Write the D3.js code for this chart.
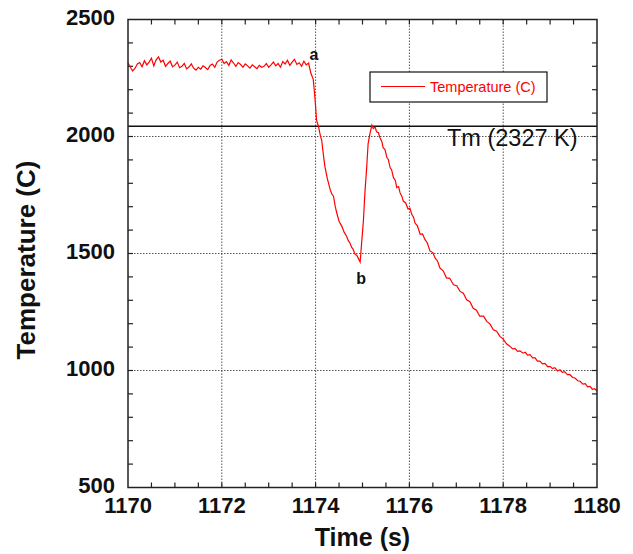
<!DOCTYPE html>
<html>
<head>
<meta charset="utf-8">
<script src="https://cdn.jsdelivr.net/npm/d3@7"></script>
<style>
  body { margin: 0; background: #fff; }
  text { font-family: "Liberation Sans", Arial, sans-serif; }
</style>
</head>
<body>
<div id="chart"></div>
<script>
// Temperature trace
var times = [
  1170.00, 1170.05, 1170.10, 1170.15, 1170.20, 1170.25, 1170.30, 1170.35, 1170.40, 1170.45,
  1170.50, 1170.55, 1170.60, 1170.65, 1170.70, 1170.75, 1170.80, 1170.85, 1170.90, 1170.95,
  1171.00, 1171.05, 1171.10, 1171.15, 1171.20, 1171.25, 1171.30, 1171.35, 1171.40, 1171.45,
  1171.50, 1171.55, 1171.60, 1171.65, 1171.70, 1171.75, 1171.80, 1171.85, 1171.90, 1171.95,
  1172.00, 1172.05, 1172.10, 1172.15, 1172.20, 1172.25, 1172.30, 1172.35, 1172.40, 1172.45,
  1172.50, 1172.55, 1172.60, 1172.65, 1172.70, 1172.75, 1172.80, 1172.85, 1172.90, 1172.95,
  1173.00, 1173.05, 1173.10, 1173.15, 1173.20, 1173.25, 1173.30, 1173.35, 1173.40, 1173.45,
  1173.50, 1173.55, 1173.60, 1173.65, 1173.70, 1173.75, 1173.80, 1173.85,
  1173.90, 1173.95, 1173.99, 1174.02, 1174.06, 1174.10, 1174.13, 1174.17, 1174.20, 1174.25,
  1174.31, 1174.35, 1174.38, 1174.42, 1174.45, 1174.50, 1174.56, 1174.61, 1174.66, 1174.70,
  1174.73, 1174.77, 1174.80, 1174.84, 1174.88, 1174.92, 1174.95,
  1174.98, 1175.02, 1175.05, 1175.09, 1175.12, 1175.16, 1175.20, 1175.23, 1175.27, 1175.30,
  1175.34, 1175.37, 1175.41, 1175.44, 1175.48, 1175.52, 1175.55, 1175.59, 1175.62, 1175.66,
  1175.70, 1175.73, 1175.77, 1175.80, 1175.84, 1175.87, 1175.92, 1175.97, 1176.01, 1176.05,
  1176.09, 1176.12, 1176.17, 1176.23, 1176.28, 1176.33, 1176.38, 1176.44, 1176.50, 1176.55,
  1176.60, 1176.65, 1176.72, 1176.79, 1176.86, 1176.94, 1177.01, 1177.08, 1177.15, 1177.22,
  1177.29, 1177.36, 1177.43, 1177.50, 1177.58, 1177.65, 1177.72, 1177.79, 1177.86, 1177.93,
  1178.00, 1178.07, 1178.14, 1178.20, 1178.25, 1178.31, 1178.36, 1178.42, 1178.47, 1178.52,
  1178.57, 1178.63, 1178.68, 1178.73, 1178.78, 1178.84, 1178.89, 1178.95, 1179.00, 1179.05,
  1179.10, 1179.16, 1179.21, 1179.26, 1179.31, 1179.37, 1179.42, 1179.48, 1179.53, 1179.59,
  1179.64, 1179.70, 1179.75, 1179.80, 1179.85, 1179.90, 1179.95, 1180.00
];
var temps = [
  2314, 2296, 2280, 2292, 2310, 2316, 2298, 2324, 2306, 2318,
  2335, 2302, 2328, 2340, 2318, 2326, 2300, 2312, 2322, 2298,
  2305, 2318, 2294, 2300, 2312, 2289, 2297, 2310, 2292, 2284,
  2296, 2288, 2302, 2295, 2286, 2304, 2310, 2296, 2318, 2326,
  2330, 2312, 2320, 2304, 2327, 2314, 2300, 2316, 2308, 2296,
  2310, 2302, 2292, 2306, 2298, 2290, 2304, 2296, 2300, 2312,
  2296, 2306, 2318, 2302, 2312, 2296, 2320, 2310, 2326, 2304,
  2318, 2330, 2308, 2315, 2300, 2322, 2306, 2314,
  2270, 2244, 2155, 2070, 2044, 2005, 1984, 1915, 1870, 1820,
  1774, 1752, 1746, 1700, 1674, 1638, 1616, 1590, 1574, 1554,
  1546, 1526, 1518, 1497, 1492, 1476, 1464,
  1542, 1642, 1756, 1870, 1970, 2013, 2048, 2034, 2040, 2020,
  2016, 1996, 1980, 1952, 1944, 1910, 1902, 1866, 1858, 1824,
  1812, 1782, 1786, 1760, 1744, 1724, 1716, 1690, 1694, 1668,
  1654, 1630, 1618, 1582, 1584, 1560, 1546, 1510, 1504, 1480,
  1468, 1438, 1426, 1396, 1394, 1366, 1362, 1338, 1330, 1302,
  1294, 1266, 1258, 1232, 1232, 1210, 1198, 1174, 1168, 1146,
  1134, 1114, 1104, 1092, 1094, 1082, 1084, 1074, 1078, 1066,
  1068, 1054, 1054, 1040, 1040, 1028, 1030, 1016, 1018, 1008,
  1012, 998, 1003, 992, 995, 982, 983, 970, 968, 956,
  954, 942, 944, 930, 932, 920, 922, 912
];
var xTicks = [1170, 1172, 1174, 1176, 1178, 1180];
var yTicks = [500, 1000, 1500, 2000, 2500];
var tmValue = 2044;            // melting line as drawn (C)
var tmLabel = "Tm (2327 K)";
var seriesName = "Temperature (C)";
var notes = [{ t: 1173.85, v: 2314, text: "a", dx: 1, dy: -3 }, { t: 1174.95, v: 1464, text: "b", dx: -4, dy: 22 }];

var margin = { top: 19.5, right: 36, bottom: 66.5, left: 128 },
  width = 633 - margin.left - margin.right,
  height = 554 - margin.top - margin.bottom;

var svg = d3.select("#chart").append("svg")
  .attr("width", 633)
  .attr("height", 554);
var g = svg.append("g")
  .attr("transform", "translate(" + margin.left + "," + margin.top + ")");

var x = d3.scaleLinear().domain([1170, 1180]).range([0, width]);
var y = d3.scaleLinear().domain([500, 2500]).range([height, 0]);

// dotted grid at the major ticks
g.selectAll(".gridX")
  .data(xTicks.slice(1, -1))
  .enter().append("line")
  .attr("x1", d => x(d)).attr("x2", d => x(d))
  .attr("y1", 0).attr("y2", height)
  .style("stroke", "#555").style("stroke-width", 1).style("stroke-dasharray", "1.5,1.5");
g.selectAll(".gridY")
  .data(yTicks.slice(1, -1))
  .enter().append("line")
  .attr("y1", d => y(d)).attr("y2", d => y(d))
  .attr("x1", 0).attr("x2", width)
  .style("stroke", "#555").style("stroke-width", 1).style("stroke-dasharray", "1.5,1.5");

// inward minor ticks on all four sides
var tickLen = 5;
var xMinor = d3.range(1170.5, 1180, 0.5);
var yMinor = d3.range(600, 2500, 100);
g.selectAll(".tickBottom").data(xMinor).enter().append("line")
  .attr("x1", d => x(d)).attr("x2", d => x(d)).attr("y1", height).attr("y2", height - tickLen)
  .style("stroke", "#222").style("stroke-width", 1.2);
g.selectAll(".tickTop").data(xMinor).enter().append("line")
  .attr("x1", d => x(d)).attr("x2", d => x(d)).attr("y1", 0).attr("y2", tickLen)
  .style("stroke", "#222").style("stroke-width", 1.2);
g.selectAll(".tickLeft").data(yMinor).enter().append("line")
  .attr("y1", d => y(d)).attr("y2", d => y(d)).attr("x1", 0).attr("x2", tickLen)
  .style("stroke", "#222").style("stroke-width", 1.2);
g.selectAll(".tickRight").data(yMinor).enter().append("line")
  .attr("y1", d => y(d)).attr("y2", d => y(d)).attr("x1", width).attr("x2", width - tickLen)
  .style("stroke", "#222").style("stroke-width", 1.2);

// tick labels
g.selectAll(".xLabel").data(xTicks).enter().append("text")
  .attr("x", d => x(d)).attr("y", height + 25)
  .attr("text-anchor", "middle")
  .style("font-size", "22px").style("font-weight", "bold").attr("fill", "#111")
  .text(d => d);
g.selectAll(".yLabel").data(yTicks).enter().append("text")
  .attr("x", -13).attr("y", d => y(d) + 5.5)
  .attr("text-anchor", "end")
  .style("font-size", "22px").style("font-weight", "bold").attr("fill", "#111")
  .text(d => d);

// axis titles
g.append("text")
  .attr("x", width / 2).attr("y", height + 58)
  .attr("text-anchor", "middle")
  .style("font-size", "25px").style("font-weight", "bold").attr("fill", "#111")
  .text("Time (s)");
svg.append("text")
  .attr("transform", "translate(35,260) rotate(-90)")
  .attr("text-anchor", "middle")
  .style("font-size", "26px").style("font-weight", "bold").attr("fill", "#111")
  .text("Temperature (C)");

// melting temperature line
g.append("line")
  .attr("x1", 0).attr("x2", width)
  .attr("y1", y(tmValue)).attr("y2", y(tmValue))
  .style("stroke", "#111").style("stroke-width", 1.5);
g.append("text")
  .attr("x", width - 150).attr("y", y(tmValue) + 20)
  .style("font-size", "23.5px").attr("fill", "#111")
  .text(tmLabel);

// the trace
var data = times.map((t, i) => ({ t: t, v: temps[i] }));
var line = d3.line().x(d => x(d.t)).y(d => y(d.v));
g.append("path")
  .datum(data)
  .attr("d", line)
  .style("fill", "none")
  .style("stroke", "#ff0000")
  .style("stroke-width", 1.2);

g.selectAll(".note").data(notes).enter().append("text")
  .attr("x", d => x(d.t) + d.dx).attr("y", d => y(d.v) + d.dy)
  .style("font-size", "16px").style("font-weight", "bold").attr("fill", "#111")
  .text(d => d.text);

// frame
g.append("rect")
  .attr("width", width).attr("height", height)
  .style("fill", "none").style("stroke", "#222").style("stroke-width", 1.5);

// legend
var legend = g.append("g").attr("transform", "translate(" + (370 - margin.left) + "," + (72 - margin.top) + ")");
legend.append("rect")
  .attr("width", 177).attr("height", 30)
  .style("fill", "#fff").style("stroke", "#111").style("stroke-width", 1.2);
legend.append("line")
  .attr("x1", 11).attr("x2", 55).attr("y1", 14.5).attr("y2", 14.5)
  .style("stroke", "#ff0000").style("stroke-width", 1.2);
legend.append("text")
  .attr("x", 60).attr("y", 20)
  .style("font-size", "14.5px").attr("fill", "#ff0000")
  .text(seriesName);
</script>
</body>
</html>
